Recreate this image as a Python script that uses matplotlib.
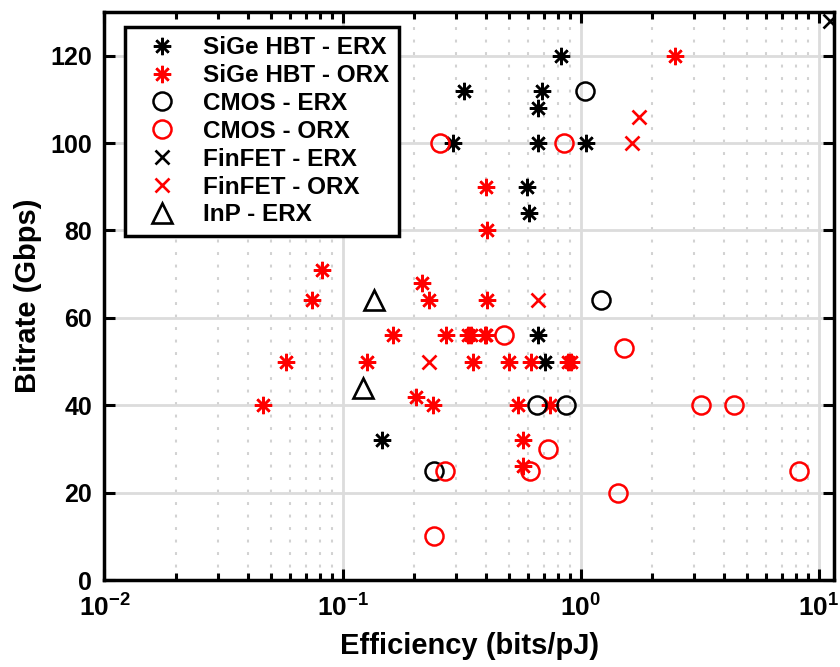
import matplotlib
matplotlib.use("Agg")
import matplotlib.pyplot as plt
from matplotlib.ticker import FixedLocator, LogLocator, NullFormatter

plt.rcParams['font.family'] = ['Liberation Sans', 'DejaVu Sans']
plt.rcParams['font.weight'] = 'bold'
plt.rcParams['mathtext.fontset'] = 'custom'
plt.rcParams['mathtext.rm'] = 'Liberation Sans:bold'
plt.rcParams['mathtext.bf'] = 'Liberation Sans:bold'

# Efficiency (bits/pJ) and bitrate (Gbps) per technology / receiver type
sige_erx_eff = [0.824, 0.324, 0.687, 0.664, 0.291, 0.664, 1.05, 0.595, 0.606, 0.660, 0.71, 0.146]
sige_erx_rate = [120, 112, 112, 108, 100, 100, 100, 90, 84, 56, 50, 32]

sige_orx_eff = [2.48, 0.402, 0.405, 0.0819, 0.0745, 0.216, 0.231, 0.405, 0.163, 0.271,
                0.336, 0.346, 0.395, 0.402, 0.0577, 0.127, 0.353, 0.498, 0.620, 0.885,
                0.91, 0.204, 0.0463, 0.240, 0.545, 0.74, 0.572, 0.572]
sige_orx_rate = [120, 90, 80, 71, 64, 68, 64, 64, 56, 56,
                 56, 56, 56, 56, 50, 50, 50, 50, 50, 50,
                 50, 42, 40, 40, 40, 40, 32, 26]

cmos_erx_eff = [1.045, 1.22, 0.656, 0.871, 0.241]
cmos_erx_rate = [112, 64, 40, 40, 25]

cmos_orx_eff = [0.256, 0.851, 0.475, 1.52, 3.2, 4.39, 0.728, 0.268, 0.611, 8.27, 1.44, 0.242]
cmos_orx_rate = [100, 100, 56, 53, 40, 40, 30, 25, 25, 25, 20, 10]

finfet_erx_eff = [11.2]
finfet_erx_rate = [128]

finfet_orx_eff = [1.75, 1.64, 0.664, 0.231]
finfet_orx_rate = [106, 100, 64, 50]

inp_erx_eff = [0.136, 0.122]
inp_erx_rate = [64, 44]

y_ticks = [0, 20, 40, 60, 80, 100, 120]
x_ticks = [0.01, 0.1, 1, 10]
x_tick_labels = [r'$10^{-2}$', r'$10^{-1}$', r'$10^{0}$', r'$10^{1}$']

fig = plt.figure(figsize=(8.4, 6.67), dpi=100)
ax = fig.add_axes([0.1244, 0.1304, 0.8686, 0.8516])

asterisk = (8, 2, 0)
ax.plot(sige_erx_eff, sige_erx_rate, ls='none', marker=asterisk, ms=12.5, mew=1.8,
        color='black', label='SiGe HBT - ERX')
ax.plot(sige_orx_eff, sige_orx_rate, ls='none', marker=asterisk, ms=12.5, mew=1.8,
        color='red', label='SiGe HBT - ORX')
ax.plot(cmos_erx_eff, cmos_erx_rate, ls='none', marker='o', ms=13, mew=1.8,
        mfc='none', color='black', label='CMOS - ERX')
ax.plot(cmos_orx_eff, cmos_orx_rate, ls='none', marker='o', ms=13, mew=1.8,
        mfc='none', color='red', label='CMOS - ORX')
ax.plot(finfet_erx_eff, finfet_erx_rate, ls='none', marker='x', ms=10, mew=1.9,
        color='black', label='FinFET - ERX')
ax.plot(finfet_orx_eff, finfet_orx_rate, ls='none', marker='x', ms=10, mew=1.9,
        color='red', label='FinFET - ORX')
ax.plot(inp_erx_eff, inp_erx_rate, ls='none', marker='^', ms=14, mew=1.9,
        mfc='none', color='black', label='InP - ERX')

ax.set_xscale('log')
ax.set_xlim(0.01, 11.6)
ax.set_ylim(0, 130)

ax.xaxis.set_major_locator(FixedLocator(x_ticks))
ax.set_xticklabels(x_tick_labels)
ax.xaxis.set_minor_locator(LogLocator(base=10, subs=range(2, 10)))
ax.xaxis.set_minor_formatter(NullFormatter())
ax.set_yticks(y_ticks)

ax.grid(True, which='major', color='#dcdcdc', lw=2.0, ls='-')
ax.grid(True, which='minor', axis='x', color='#d2d2d2', lw=1.5, ls=(0, (1.4, 4.6)))
ax.set_axisbelow(True)

ax.tick_params(which='both', direction='in', top=True, right=True, width=2.2)
ax.tick_params(axis='y', labelsize=18, pad=9)
ax.tick_params(axis='x', labelsize=19, pad=9)
ax.tick_params(which='major', length=8)
ax.tick_params(which='minor', length=5)
for s in ax.spines.values():
    s.set_linewidth(2.5)

ax.set_xlabel('Efficiency (bits/pJ)', fontsize=21, fontweight='bold', labelpad=8)
ax.set_ylabel('Bitrate (Gbps)', fontsize=21, fontweight='bold', labelpad=6)

leg = ax.legend(loc='upper left', fontsize=17.5, frameon=True, fancybox=False,
                framealpha=1, edgecolor='black', borderpad=0.38, labelspacing=0.2,
                handlelength=2.3, handletextpad=0.55, borderaxespad=0,
                bbox_to_anchor=(0.028, 0.9736))
leg.get_frame().set_linewidth(2.5)

fig.savefig('out.png', dpi=100)
